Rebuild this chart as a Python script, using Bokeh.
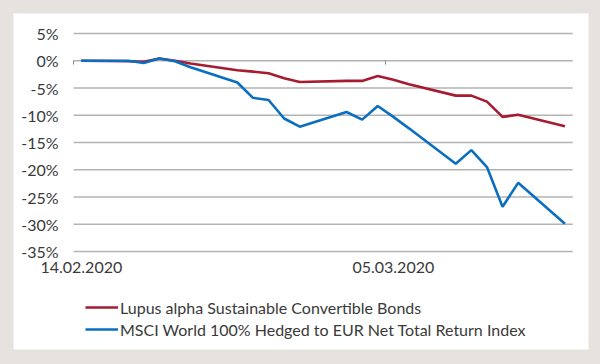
import pandas as pd
from bokeh.plotting import figure
from bokeh.models import (Range1d, LinearAxis, FixedTicker, PrintfTickFormatter,
                          Legend, LegendItem, ColumnDataSource)
from bokeh.embed import file_html
from bokeh.resources import INLINE

# ---- data ----
dates = ["14.02.2020", "17.02.2020", "18.02.2020", "19.02.2020", "20.02.2020",
         "21.02.2020", "24.02.2020", "25.02.2020", "26.02.2020", "27.02.2020",
         "28.02.2020", "02.03.2020", "03.03.2020", "04.03.2020", "05.03.2020",
         "06.03.2020", "09.03.2020", "10.03.2020", "11.03.2020", "12.03.2020",
         "13.03.2020", "16.03.2020"]
fund = [0.0, -0.1, -0.2, 0.4, 0.0, -0.5, -1.75, -2.0, -2.3, -3.2, -3.9,
        -3.7, -3.7, -2.8, -3.5, -4.3, -6.4, -6.4, -7.5, -10.3, -9.9, -12.0]
msci = [0.0, 0.0, -0.4, 0.4, -0.1, -1.2, -4.0, -6.8, -7.2, -10.6, -12.1,
        -9.4, -10.8, -8.3, -10.3, -12.4, -18.9, -16.4, -19.5, -26.8, -22.4, -29.9]
series_names = ["Lupus alpha Sustainable Convertible Bonds",
                "MSCI World 100% Hedged to EUR Net Total Return Index"]
y_ticks = [5, 0, -5, -10, -15, -20, -25, -30, -35]
x_label_dates = ["14.02.2020", "05.03.2020"]
axis_first_day = "14.02.2020"
axis_last_day = "16.03.2020"

RED = "#a61b30"
BLUE = "#0a6fc0"
TXT = "#3a3a3a"
GRID = "#b3b3b3"
BG = "#e6e2de"
FONT = "Lato"
FS = "16px"

t0 = pd.to_datetime(axis_first_day, format="%d.%m.%Y")
def day(s):
    return float((pd.to_datetime(s, format="%d.%m.%Y") - t0).days)

x = [day(d) for d in dates]
src = ColumnDataSource(dict(x=x, fund=fund, msci=msci))

p = figure(width=592, height=356, output_backend="svg", toolbar_location=None,
           x_axis_type=None, y_axis_type=None,
           x_range=Range1d(-4.35, 32.51), y_range=Range1d(-52.98, 8.67),
           min_border_left=13, min_border_right=4, min_border_top=13, min_border_bottom=7)
p.background_fill_color = "white"
p.border_fill_color = BG
p.outline_line_color = None
p.xgrid.visible = False
p.ygrid.visible = False

# gridlines over the axis span
x0 = day(axis_first_day) - 0.5
x1 = day(axis_last_day) + 0.5
p.segment(x0=[x0] * len(y_ticks), x1=[x1] * len(y_ticks), y0=y_ticks, y1=y_ticks,
          line_color=GRID, line_width=1.5)

r1 = p.line("x", "fund", source=src, line_color=RED, line_width=2.6)
r2 = p.line("x", "msci", source=src, line_color=BLUE, line_width=2.6)

# y axis labels
yax = LinearAxis(fixed_location=x0, ticker=FixedTicker(ticks=y_ticks),
                 formatter=PrintfTickFormatter(format="%d%%"),
                 axis_line_color=None, major_tick_line_color=None,
                 minor_tick_line_color=None, major_tick_in=0, major_tick_out=0,
                 major_label_standoff=15, major_label_text_font=FONT,
                 major_label_text_font_size=FS, major_label_text_color=TXT)
p.add_layout(yax, "left")

# tick marks on the zero line
tick_pos = [day(d) - 0.5 for d in x_label_dates]
tax = LinearAxis(fixed_location=0, ticker=FixedTicker(ticks=tick_pos),
                 major_label_overrides={t: "" for t in tick_pos},
                 axis_line_color=None, major_tick_line_color="#8a8a8a",
                 major_tick_line_width=1, minor_tick_line_color=None,
                 major_tick_in=0, major_tick_out=4,
                 major_label_text_font_size="1px")
p.add_layout(tax, "below")

# date labels
lab_pos = [day(d) for d in x_label_dates]
lax = LinearAxis(fixed_location=y_ticks[-1], ticker=FixedTicker(ticks=lab_pos),
                 major_label_overrides={t: s for t, s in zip(lab_pos, x_label_dates)},
                 axis_line_color=None, major_tick_line_color=None,
                 minor_tick_line_color=None, major_tick_in=0, major_tick_out=0,
                 major_label_standoff=10, major_label_text_font=FONT,
                 major_label_text_font_size=FS, major_label_text_color=TXT)
p.add_layout(lax, "below")

legend = Legend(items=[LegendItem(label=series_names[0], renderers=[r1]),
                       LegendItem(label=series_names[1], renderers=[r2])],
                location=(72, 10), orientation="vertical",
                glyph_width=33, glyph_height=20, label_height=20, spacing=2,
                padding=0, margin=0, label_standoff=2,
                border_line_color=None, background_fill_alpha=0,
                label_text_font=FONT, label_text_font_size=FS,
                label_text_color=TXT)
p.add_layout(legend)

html = file_html(p, INLINE)
html = html.replace("</head>", "<style>html,body{background-color:%s;}</style></head>" % BG, 1)
open("out.html", "w").write(html)
